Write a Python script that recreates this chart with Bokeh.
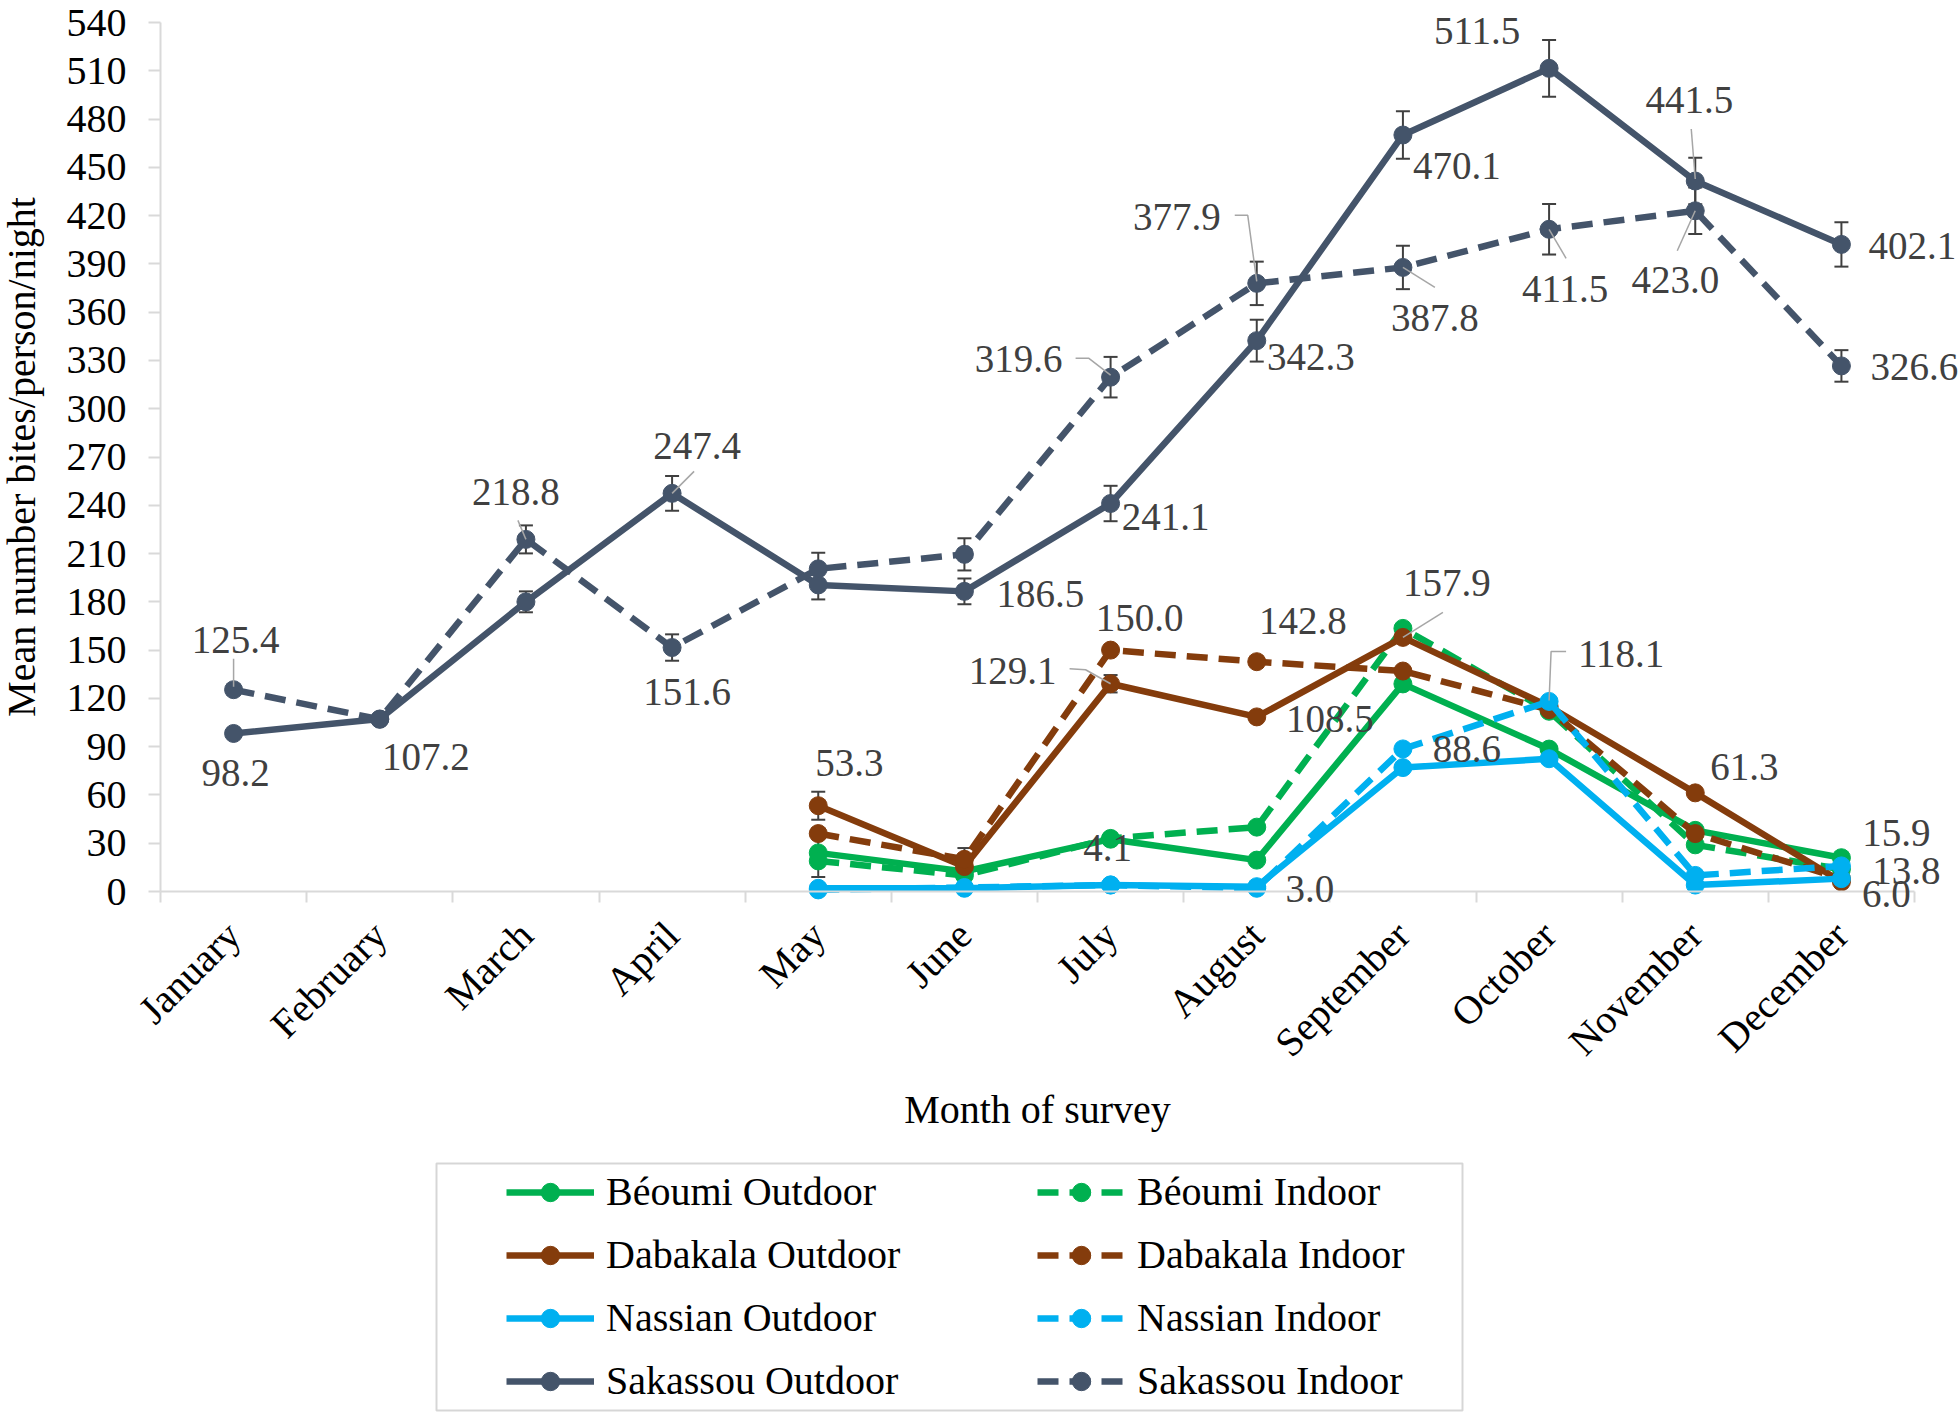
import math
from bokeh.plotting import figure
from bokeh.models import (ColumnDataSource, FixedTicker, Legend, LegendItem, LabelSet,
                          Whisker, TeeHead, BoxAnnotation, Range1d)
from bokeh.embed import file_html
from bokeh.resources import INLINE

# ---------------- data ----------------
months = ["January", "February", "March", "April", "May", "June", "July",
          "August", "September", "October", "November", "December"]
y_tick_values = [0, 30, 60, 90, 120, 150, 180, 210, 240, 270, 300, 330, 360,
                 390, 420, 450, 480, 510, 540]

beoumi_out = [None, None, None, None, 24.0, 12.5, 32.5, 19.5, 129.0, 88.5, 38.0, 21.0]
beoumi_in = [None, None, None, None, 19.0, 10.0, 33.0, 40.0, 163.5, 112.0, 29.0, 13.8]
dabakala_out = [None, None, None, None, 53.3, 15.5, 129.1, 108.5, 157.9, 115.0, 61.3, 6.0]
dabakala_in = [None, None, None, None, 36.0, 20.0, 150.0, 142.8, 137.0, 113.0, 36.0, 8.0]
nassian_out = [None, None, None, None, 2.0, 2.0, 4.1, 3.0, 77.0, 82.5, 4.0, 8.0]
nassian_in = [None, None, None, None, 1.0, 2.5, 4.0, 2.0, 88.6, 118.1, 10.0, 15.9]
sakassou_out = [98.2, 107.2, 180.0, 247.4, 190.5, 186.5, 241.1, 342.3, 470.1, 511.5, 441.5, 402.1]
sakassou_in = [125.4, 107.0, 218.8, 151.6, 200.5, 209.5, 319.6, 377.9, 387.8, 411.5, 423.0, 326.6]

beoumi_out_err = [0, 0, 0, 0, 15.0, 0, 0, 0, 0, 0, 0, 0]
beoumi_in_err = [0] * 12
dabakala_out_err = [0, 0, 0, 0, 8.7, 0, 5.4, 0, 0, 0, 0, 0]
dabakala_in_err = [0, 0, 0, 0, 0, 7.0, 0, 0, 0, 0, 0, 0]
nassian_out_err = [0] * 12
nassian_in_err = [0] * 12
sakassou_out_err = [0, 0, 6.5, 10.8, 9.0, 8.0, 11.0, 13.0, 14.7, 17.7, 14.5, 13.8]
sakassou_in_err = [3.0, 0, 8.7, 8.2, 10.0, 10.0, 12.6, 13.5, 13.5, 15.7, 14.5, 9.8]

# ---------------- styles ----------------
GREEN, BROWN, CYAN, SLATE = "#00B050", "#843C0C", "#00B0F0", "#44546A"
DASH = "21 11"
FONT = "Liberation Serif"
LINE_W = 6.5
MARK = 18

series = {
    "beo_out": ("Béoumi Outdoor", beoumi_out, beoumi_out_err, GREEN, "solid"),
    "beo_in": ("Béoumi Indoor", beoumi_in, beoumi_in_err, GREEN, DASH),
    "dab_out": ("Dabakala Outdoor", dabakala_out, dabakala_out_err, BROWN, "solid"),
    "dab_in": ("Dabakala Indoor", dabakala_in, dabakala_in_err, BROWN, DASH),
    "nas_out": ("Nassian Outdoor", nassian_out, nassian_out_err, CYAN, "solid"),
    "nas_in": ("Nassian Indoor", nassian_in, nassian_in_err, CYAN, DASH),
    "sak_out": ("Sakassou Outdoor", sakassou_out, sakassou_out_err, SLATE, "solid"),
    "sak_in": ("Sakassou Indoor", sakassou_in, sakassou_in_err, SLATE, DASH),
}
draw_order = ["beo_out", "beo_in", "dab_out", "dab_in", "nas_out", "nas_in", "sak_out", "sak_in"]

# label placement: (series, month index, dx px, dy px (down), leader polyline px offsets)
label_layout = [
    ("sak_out", 0, 2, 40, None),
    ("sak_out", 1, 46, 38, None),
    ("sak_out", 3, 25, -47, [(0, 0), (22, -22)]),
    ("sak_out", 5, 76, 3, None),
    ("sak_out", 6, 55, 13, None),
    ("sak_out", 7, 54, 16, None),
    ("sak_out", 8, 54, 31, None),
    ("sak_out", 9, -72, -37, None),
    ("sak_out", 10, -6, -81, [(-4, -52), (0, -2)]),
    ("sak_out", 11, 71, 2, None),
    ("sak_in", 0, 2, -50, [(0, -31), (0, -3)]),
    ("sak_in", 2, -10, -47, [(-8, -19), (0, 0)]),
    ("sak_in", 3, 15, 44, None),
    ("sak_in", 6, -92, -18, [(-35, -19), (-22, -19), (0, -2)]),
    ("sak_in", 7, -80, -66, [(-22, -68), (-9, -68), (0, -2)]),
    ("sak_in", 8, 32, 51, [(0, 0), (32, 20)]),
    ("sak_in", 9, 16, 60, [(0, 0), (17, 29)]),
    ("sak_in", 10, -20, 69, [(0, 0), (-18, 40)]),
    ("sak_in", 11, 73, 1, None),
    ("dab_out", 4, 31, -43, None),
    ("dab_out", 6, -98, -13, [(-41, -15), (-25, -14), (0, 0)]),
    ("dab_out", 7, 73, 2, None),
    ("dab_out", 8, 44, -54, [(0, 0), (40, -25)]),
    ("dab_out", 10, 49, -26, None),
    ("dab_out", 11, 45, 12, None),
    ("dab_in", 6, 29, -32, None),
    ("dab_in", 7, 46, -41, None),
    ("nas_out", 6, -3, -37, None),
    ("nas_out", 7, 53, 2, None),
    ("nas_in", 8, 64, 0, None),
    ("nas_in", 9, 72, -47, [(17, -50), (2, -50), (0, -1)]),
    ("nas_in", 11, 55, -33, None),
    ("beo_in", 11, 65, 2, None),
]

# ---------------- layout (pixels inside the canvas) ----------------
W, H = 1960, 1413
X_LEFT_PX, X_RIGHT_PX = 160.0, 1914.0    # where x = 0 and x = 12 fall
Y_TOP_PX, Y_ZERO_PX = 22.0, 891.0        # where y = 540 and y = 0 fall
PX_X = (X_RIGHT_PX - X_LEFT_PX) / 12
PX_Y = (Y_ZERO_PX - Y_TOP_PX) / 540
X_START = -X_LEFT_PX / PX_X
X_END = 12 + (W - X_RIGHT_PX) / PX_X
Y_END = 540 + Y_TOP_PX / PX_Y
Y_START = -(H - Y_ZERO_PX) / PX_Y


def cx(px):
    return X_START + px / PX_X


def cy(py):
    return Y_END - py / PX_Y


p = figure(width=W, height=H, x_range=Range1d(X_START, X_END), y_range=Range1d(Y_START, Y_END),
           output_backend="svg", toolbar_location=None, min_border=0)
p.outline_line_color = None
p.grid.visible = False

xpos = [i + 0.5 for i in range(len(months))]

# x axis (labels centred on categories, tick marks at category boundaries)
xa = p.xaxis[0]
xa.fixed_location = 0
xa.bounds = (0, 12)
xa.ticker = FixedTicker(ticks=xpos, minor_ticks=list(range(len(months) + 1)))
xa.major_label_overrides = {x: m for x, m in zip(xpos, months)}
xa.axis_line_color = "#d9d9d9"
xa.axis_line_width = 2
xa.major_tick_line_color = None
xa.major_tick_in = 0
xa.major_tick_out = 0
xa.minor_tick_line_color = "#d9d9d9"
xa.minor_tick_line_width = 2
xa.minor_tick_in = 0
xa.minor_tick_out = 11
xa.major_label_orientation = math.pi / 4
xa.major_label_text_font = FONT
xa.major_label_text_font_size = "40px"
xa.major_label_text_color = "black"
xa.major_label_standoff = 26
xa.axis_label = "Month of survey"
xa.axis_label_text_font = FONT
xa.axis_label_text_font_size = "40px"
xa.axis_label_text_font_style = "normal"
xa.axis_label_text_color = "black"
xa.axis_label_standoff = 3

ya = p.yaxis[0]
ya.fixed_location = 0
ya.ticker = FixedTicker(ticks=y_tick_values)
ya.bounds = (0, 540)
ya.axis_line_color = "#d9d9d9"
ya.axis_line_width = 2
ya.major_tick_line_color = "#d9d9d9"
ya.major_tick_line_width = 2
ya.major_tick_in = 0
ya.major_tick_out = 12
ya.minor_tick_line_color = None
ya.major_label_text_font = FONT
ya.major_label_text_font_size = "40px"
ya.major_label_text_color = "black"
ya.major_label_standoff = 22
ya.axis_label = "Mean number bites/person/night"
ya.axis_label_text_font = FONT
ya.axis_label_text_font_size = "40px"
ya.axis_label_text_font_style = "normal"
ya.axis_label_text_color = "black"
ya.axis_label_standoff = 20

# ---------------- series ----------------
renderers = {}
for key in draw_order:
    name, vals, errs, color, dash = series[key]
    xs = [x for x, v in zip(xpos, vals) if v is not None]
    ys = [v for v in vals if v is not None]
    src = ColumnDataSource(dict(x=xs, y=ys))
    lr = p.line("x", "y", source=src, line_color=color, line_width=LINE_W, line_dash=dash,
                line_join="round")
    sr = p.scatter("x", "y", source=src, marker="circle", size=MARK, fill_color=color,
                   line_color=color, line_width=1)
    renderers[key] = (lr, sr)

# error bars
for key in draw_order:
    name, vals, errs, color, dash = series[key]
    bx, up, lo = [], [], []
    for x, v, e in zip(xpos, vals, errs):
        if v is not None and e:
            bx.append(x)
            up.append(v + e)
            lo.append(v - e)
    if bx:
        esrc = ColumnDataSource(dict(base=bx, upper=up, lower=lo))
        p.add_layout(Whisker(source=esrc, base="base", upper="upper", lower="lower",
                             dimension="height", line_color="#404040", line_width=2,
                             upper_head=TeeHead(size=14, line_color="#404040", line_width=2),
                             lower_head=TeeHead(size=14, line_color="#404040", line_width=2)))

# ---------------- data labels ----------------
lx, ly, lt, ldx, ldy = [], [], [], [], []
lead_xs, lead_ys = [], []
for key, mi, dx, dy, leader in label_layout:
    v = series[key][1][mi]
    lx.append(xpos[mi])
    ly.append(v)
    lt.append(f"{v:.1f}")
    ldx.append(dx)
    ldy.append(-dy)
    if leader:
        lead_xs.append([xpos[mi] + ox / PX_X for ox, oy in leader])
        lead_ys.append([v - oy / PX_Y for ox, oy in leader])

p.multi_line(xs=lead_xs, ys=lead_ys, line_color="#a6a6a6", line_width=1.5)

lsrc = ColumnDataSource(dict(x=lx, y=ly, text=lt, dx=ldx, dy=ldy))
p.add_layout(LabelSet(x="x", y="y", text="text", source=lsrc, x_offset="dx", y_offset="dy",
                      text_align="center", text_baseline="middle", text_font=FONT,
                      text_font_size="39px", text_color="#404040"))

# ---------------- legend ----------------
ITEM_H, SPACING = 46, 16
LEG_TOP = 1172
LEG_BOTTOM = LEG_TOP + 4 * ITEM_H + 3 * SPACING


def make_legend(keys, left_px):
    items = [LegendItem(label=series[k][0], renderers=list(renderers[k])) for k in keys]
    return Legend(items=items, location=(left_px, H - LEG_BOTTOM), orientation="vertical",
                  border_line_alpha=0, background_fill_alpha=0, padding=0, margin=0,
                  spacing=SPACING, glyph_width=88, glyph_height=ITEM_H, label_height=ITEM_H,
                  label_standoff=12, label_text_font=FONT, label_text_font_size="40px",
                  label_text_color="black")


p.add_layout(make_legend(["beo_out", "dab_out", "nas_out", "sak_out"], 506))
p.add_layout(make_legend(["beo_in", "dab_in", "nas_in", "sak_in"], 1037))
p.add_layout(BoxAnnotation(left=cx(436), right=cx(1462), top=cy(1163), bottom=cy(1410),
                           fill_alpha=0, line_color="#767676", line_width=2))

open("out.html", "w").write(file_html(p, INLINE))
